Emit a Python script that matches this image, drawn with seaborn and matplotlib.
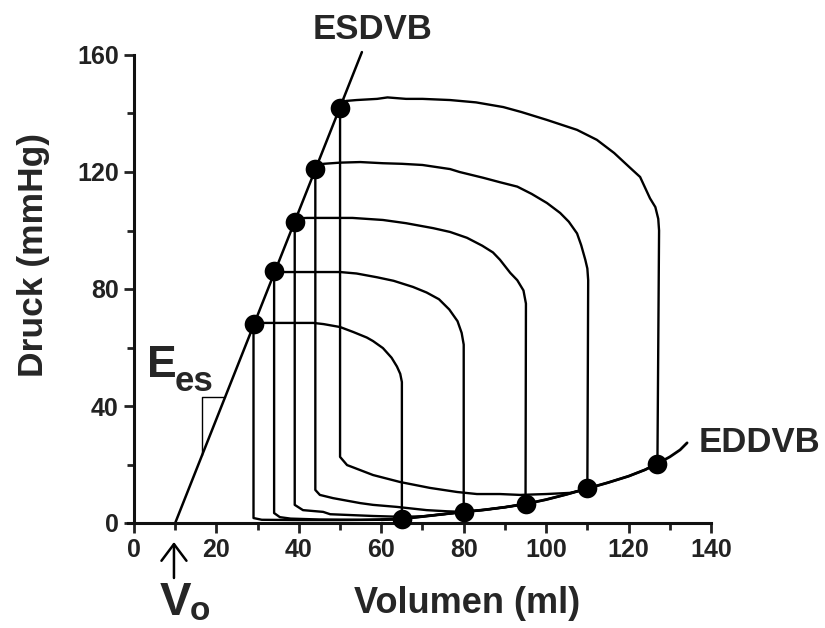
import matplotlib
matplotlib.use("Agg")
import matplotlib.pyplot as plt
from matplotlib.ticker import FixedLocator
import seaborn as sns
import pandas as pd

sns.set_style("ticks")
plt.rcParams["font.family"] = ["Liberation Sans", "DejaVu Sans"]
plt.rcParams["font.weight"] = "bold"

# --- pressure-volume loops (volume in ml, pressure in mmHg) ---
loop1_v = [65, 65, 64.6, 63.8, 62.5, 60.4, 58, 56.5, 53.2, 50, 46, 43.5, 30.6, 29,
           29, 31, 40, 50, 60, 65]
loop1_p = [1.4, 48.2, 51, 53.5, 56.5, 59.8, 62.2, 63.4, 65.3, 67, 68, 68.4, 68.4, 68,
           1.7, 1.1, 1.0, 1.0, 1.1, 1.4]

loop2_v = [80, 80, 79.5, 78.5, 76.5, 74, 71, 67.7, 63, 59, 54, 50, 36.2, 34,
           34, 35.4, 38, 45, 55, 65, 70, 75, 80]
loop2_p = [3.8, 61, 65, 69, 73, 76.5, 78.8, 80.7, 82.8, 84, 85.3, 85.8, 85.8, 86,
           3.4, 2.0, 1.5, 1.2, 1.1, 1.4, 2.2, 3.0, 3.8]

loop3_v = [95, 95.1, 94.5, 93, 91.3, 88.8, 87.1, 84.5, 80.8, 76.7, 72.6, 66, 60.4,
           53, 42, 40.5, 39,
           39, 41, 45.9, 47.6, 58, 65, 70, 75, 80, 85, 90, 95]
loop3_p = [6.5, 75, 79.5, 83, 85.5, 90, 92.5, 94.8, 97.5, 99.5, 100.8, 102.5, 103.6,
           104.3, 104.3, 104.2, 103,
           6.2, 4.4, 3.8, 3.0, 2.4, 2.1, 2.3, 3.0, 3.8, 4.5, 5.4, 6.5]

loop4_v = [110, 110.2, 110, 109.5, 108.5, 107.5, 105.5, 103.4, 100.2, 96.5, 93, 88.8,
           84.8, 79, 76.7, 70, 65, 60.4, 54.9, 50, 46, 44,
           44, 45.1, 48.3, 54.9, 58, 63.8, 71, 76, 80, 85, 90, 95, 100, 105, 110]
loop4_p = [11.8, 83, 87, 90, 95, 99, 103, 106, 109.4, 112.5, 115, 116.5,
           118, 120, 121, 122.4, 122.8, 123, 123.4, 123.2, 122.8, 121,
           11.3, 9.6, 8.5, 6.8, 6.2, 5.5, 4.4, 4.0, 3.8, 4.5, 5.4, 6.5, 8.0, 9.8, 11.8]

loop5_v = [127, 127.4, 127.2, 126.5, 125.2, 122.8, 120.4, 116.5, 112.3, 107.5, 100.2,
           94, 89.6, 83, 76.7, 70, 66, 61.5, 59, 54, 51.5, 50,
           50, 51.7, 53.2, 58, 64.6, 71.8, 78.4, 83.2, 88.8, 93.7, 100, 105.8, 108,
           110, 115, 120, 124, 127]
loop5_p = [20.3, 100, 104, 108, 111, 118.3, 121.4, 126.5, 131, 134.4, 137.8,
           140.5, 142.2, 143.8, 144.6, 145, 145, 145.5, 145, 144.6, 144.3, 142,
           22.6, 19.8, 19, 16.4, 14, 12, 10.6, 9.9, 9.9, 9.6, 9.9, 10.3, 11.0,
           11.8, 13.8, 16.0, 18.2, 20.3]

# end-systolic pressure-volume relation (ESDVB) and its points
espvr_v = [10, 55.3]
espvr_p = [0, 161]
es_v = [29, 34, 39, 44, 50]
es_p = [68, 86, 103, 121, 142]

# end-diastolic pressure-volume relation (EDDVB) and its points
edpvr_v = [60, 65, 70, 75, 80, 85, 90, 95, 100, 105, 110, 115, 120, 124, 127,
           130, 132.5, 134.2]
edpvr_p = [1.1, 1.4, 2.2, 3.0, 3.8, 4.5, 5.4, 6.5, 8.0, 9.8, 11.8, 13.8, 16.0,
           18.2, 20.3, 22.6, 25.0, 27.4]
ed_v = [65, 80, 95, 110, 127]
ed_p = [1.4, 3.8, 6.5, 11.8, 20.3]

# slope triangle for Ees
tri_v = [16.5, 16.5, 22.1]
tri_p = [23.2, 43, 43]

v0_volume = 9.7

loops = pd.concat([
    pd.DataFrame({"V": v, "P": p, "loop": i})
    for i, (v, p) in enumerate([(loop1_v, loop1_p), (loop2_v, loop2_p),
                                 (loop3_v, loop3_p), (loop4_v, loop4_p),
                                 (loop5_v, loop5_p)])
], ignore_index=True)

fig = plt.figure(figsize=(8.25, 6.28), dpi=100)
# x range -1.5..140 so the bottom spine sticks out a little left of the y spine
ax = fig.add_axes([127.8 / 825, 1 - 523 / 628, 583.2 / 825, 468 / 628])

sns.lineplot(data=loops, x="V", y="P", units="loop", estimator=None, sort=False,
             color="black", lw=1.7, ax=ax, clip_on=False)
sns.lineplot(x=edpvr_v, y=edpvr_p, sort=False, estimator=None, color="black",
             lw=2.0, ax=ax, clip_on=False)
sns.lineplot(x=espvr_v, y=espvr_p, sort=False, estimator=None, color="black",
             lw=1.8, ax=ax, clip_on=False)
sns.lineplot(x=tri_v, y=tri_p, sort=False, estimator=None, color="black",
             lw=1.0, ax=ax)
sns.scatterplot(x=es_v + ed_v, y=es_p + ed_p, s=200, color="black",
                edgecolor="black", linewidth=0, zorder=5, ax=ax, clip_on=False)

ax.set_xlim(-1.5, 140)
ax.set_ylim(0, 160)
ax.spines["left"].set_position(("data", 0))
ax.spines["top"].set_visible(False)
ax.spines["right"].set_visible(False)
for s in ("left", "bottom"):
    ax.spines[s].set_linewidth(2.2)
    ax.spines[s].set_color("#111111")

ax.xaxis.set_major_locator(FixedLocator([0, 20, 40, 60, 80, 100, 120, 140]))
ax.xaxis.set_minor_locator(FixedLocator([10, 30, 50, 70, 90, 110, 130]))
ax.yaxis.set_major_locator(FixedLocator([0, 40, 80, 120, 160]))
ax.yaxis.set_minor_locator(FixedLocator([20, 60, 100, 140]))
ax.tick_params(which="major", length=7, width=2.0, pad=4, labelsize=18,
               colors="#222222")
ax.tick_params(which="minor", length=5, width=2.0, colors="#222222")
for lab in ax.get_xticklabels() + ax.get_yticklabels():
    lab.set_fontweight("bold")
ax.set_xlabel("")
ax.set_ylabel("")

fig.text(467 / 825, 1 - 613 / 628, "Volumen (ml)", ha="center", va="baseline",
         fontsize=26, fontweight="bold")
fig.text(34 / 825, 1 - 255 / 628, "Druck (mmHg)", ha="center", va="center",
         rotation=90, fontsize=25.5, fontweight="bold")

ax.text(58, 165.5, "ESDVB", ha="center", va="baseline", fontsize=25,
        fontweight="bold", clip_on=False)
ax.text(136.9, 24.3, "EDDVB", ha="left", va="baseline", fontsize=25,
        fontweight="bold", clip_on=False)

fig.text(147 / 825, 1 - 377 / 628, "E", ha="left", va="baseline", fontsize=32,
         fontweight="bold")
fig.text(175 / 825, 1 - 391 / 628, "es", ha="left", va="baseline", fontsize=25,
         fontweight="bold")
fig.text(160 / 825, 1 - 615 / 628, "V", ha="left", va="baseline", fontsize=34,
         fontweight="bold")
fig.text(190 / 825, 1 - 627 / 628, "o", ha="left", va="bottom", fontsize=24,
         fontweight="bold")

ax.annotate("", xy=(v0_volume, -6.5), xytext=(v0_volume, -18.8),
            xycoords="data", textcoords="data", annotation_clip=False,
            arrowprops=dict(arrowstyle="->,head_length=0.6,head_width=0.45",
                            mutation_scale=20, lw=1.8, color="black",
                            shrinkA=0, shrinkB=0))

fig.savefig("out.png", dpi=100)
